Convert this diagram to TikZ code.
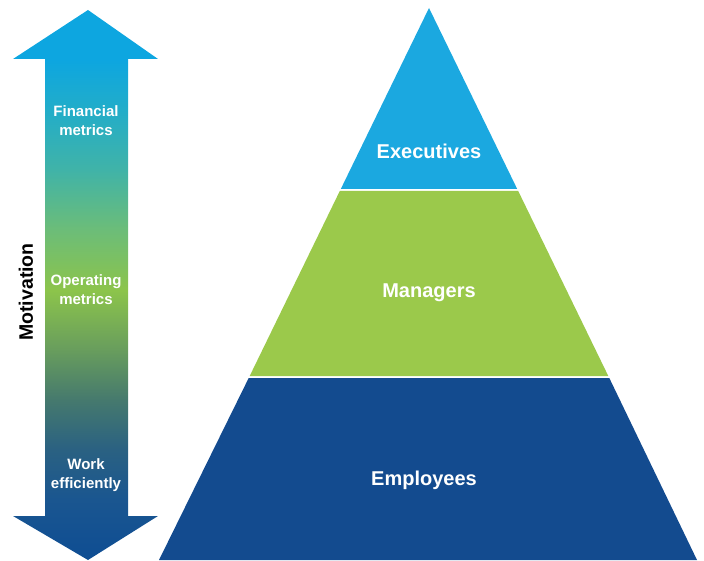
\documentclass[tikz,border=0pt]{standalone}
\usepackage{fontspec}
\setmainfont{Liberation Sans}
\definecolor{execblue}{HTML}{1BA8E0}
\definecolor{mgrgreen}{HTML}{9BC94B}
\definecolor{empblue}{HTML}{134B8F}
\definecolor{arrowA}{HTML}{0E4D93}
\definecolor{arrowB}{HTML}{1A5690}
\definecolor{arrowC}{HTML}{2A6182}
\definecolor{arrowD}{HTML}{45796E}
\definecolor{arrowE}{HTML}{689D5D}
\definecolor{arrowF}{HTML}{8CC44B}
\definecolor{arrowG}{HTML}{6CBD78}
\definecolor{arrowH}{HTML}{40B3A8}
\definecolor{arrowI}{HTML}{22ADC9}
\definecolor{arrowJ}{HTML}{0DA6E0}
% stops between 25bp and 75bp span the arrow from bottom to top
\pgfdeclareverticalshading{motivation}{100bp}{%
  color(0bp)=(arrowA);
  color(25bp)=(arrowA);
  color(30.5bp)=(arrowB);
  color(35bp)=(arrowC);
  color(39.5bp)=(arrowD);
  color(44.1bp)=(arrowE);
  color(49.5bp)=(arrowF);
  color(55bp)=(arrowG);
  color(60.5bp)=(arrowH);
  color(65.9bp)=(arrowI);
  color(70.5bp)=(arrowJ);
  color(75bp)=(arrowJ);
  color(100bp)=(arrowJ)}
\tikzset{
  layer/.style={font=\bfseries\fontsize{20}{22}\selectfont, text=white},
  tag/.style={font=\bfseries\fontsize{15}{19}\selectfont, text=white, align=center}
}
\begin{document}
\begin{tikzpicture}[x=1pt,y=-1pt]
	\useasboundingbox (0,0) rectangle (704,561);
	% motivation arrow
	\shade[shading=motivation] (88,10) -- (158,59) -- (128,59) -- (128,516) -- (158,516)
		-- (88,560) -- (13,516) -- (45,516) -- (45,59) -- (13,59) -- cycle;
	\node [tag] (fin) at (86,121) {Financial\\metrics};
	\node [tag] (op) at (86,290) {Operating\\metrics};
	\node [tag] (work) at (86,475) {Work\\efficiently};
	\node [rotate=90, font=\bfseries\fontsize{19.5}{21}\selectfont] (motiv) at (26,292) {Motivation};
	% pyramid
	\fill[execblue] (429,8) -- (517.2,189) -- (340.8,189) -- cycle;
	\fill[mgrgreen] (339.8,191) -- (518.2,191) -- (608.3,376) -- (249.7,376) -- cycle;
	\fill[empblue] (248.7,378) -- (609.3,378) -- (697,560) -- (159,560) -- cycle;
	\node [layer] (exec) at (429,151) {Executives};
	\node [layer] (mgr) at (429,293) {Managers};
	\node [layer] (emp) at (424,480) {Employees};
\end{tikzpicture}
\end{document}
